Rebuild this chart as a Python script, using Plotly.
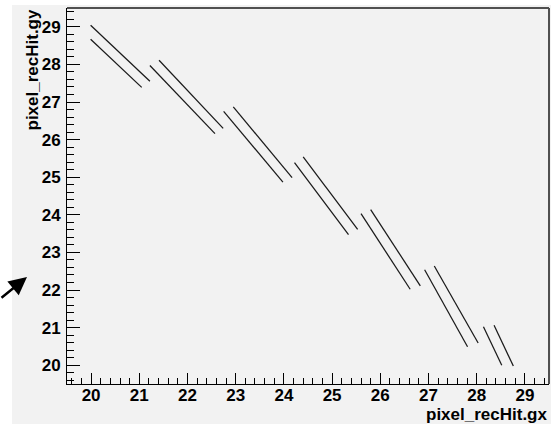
import plotly.graph_objects as go

# Reconstructed hit tracks: each entry is one straight run of rec-hits (start -> end)
seg_x_start = [19.99, 19.99, 21.22, 21.41, 22.75, 22.95, 24.22, 24.40, 25.60, 25.80, 26.92, 27.12, 28.14, 28.36]
seg_y_start = [29.04, 28.67, 27.97, 28.11, 26.75, 26.87, 25.39, 25.54, 24.03, 24.14, 22.54, 22.64, 21.02, 21.06]
seg_x_end = [21.22, 21.05, 22.57, 22.74, 23.98, 24.17, 25.34, 25.53, 26.62, 26.83, 27.81, 28.03, 28.52, 28.76]
seg_y_end = [27.55, 27.39, 26.16, 26.30, 24.87, 24.99, 23.47, 23.61, 22.02, 22.11, 20.49, 20.59, 20.00, 19.98]

x_range = [19.5, 29.5]
y_range = [19.5, 29.5]
tick_vals = [20, 21, 22, 23, 24, 25, 26, 27, 28, 29]

xs, ys = [], []
for x0, y0, x1, y1 in zip(seg_x_start, seg_y_start, seg_x_end, seg_y_end):
    xs += [x0, x1, None]
    ys += [y0, y1, None]

fig = go.Figure(go.Scatter(
    x=xs, y=ys, mode="lines",
    line=dict(color="#1a1a1a", width=1.25),
    hoverinfo="skip", showlegend=False,
))

W, H = 551, 424
ML, MR, MT, MB = 67, 2, 8, 40
pw, ph = W - ML - MR, H - MT - MB


def px_x(px):
    return (px - ML) / pw


def px_y(py):
    return (H - MB - py) / ph


text_font = dict(family="Liberation Sans, Arial, sans-serif", size=17, color="black", weight="bold")

fig.update_layout(
    width=W, height=H,
    margin=dict(l=ML, r=MR, t=MT, b=MB),
    paper_bgcolor="white",
    plot_bgcolor="#f2f2f2",
    showlegend=False,
    xaxis=dict(
        range=x_range, tickvals=tick_vals, ticks="inside", ticklen=11, tickwidth=1, tickcolor="black",
        minor=dict(ticks="inside", ticklen=6, dtick=0.2, tick0=19.6, tickcolor="black", showgrid=False),
        showline=True, linecolor="black", linewidth=1, showgrid=False, zeroline=False,
        tickfont=text_font, ticklabelstandoff=-4,
    ),
    yaxis=dict(
        range=y_range, tickvals=tick_vals, ticks="inside", ticklen=13, tickwidth=1, tickcolor="black",
        minor=dict(ticks="inside", ticklen=7, dtick=0.2, tick0=19.6, tickcolor="black", showgrid=False),
        showline=True, linecolor="black", linewidth=1, showgrid=False, zeroline=False,
        tickfont=text_font, ticklabelstandoff=2,
    ),
    shapes=[
        # canvas
        dict(type="rect", xref="paper", yref="paper", x0=px_x(12), x1=px_x(W + 2), y0=px_y(5), y1=px_y(H + 2),
             fillcolor="#f2f2f2", line=dict(width=0), layer="below"),
        # frame top and right edges
        dict(type="line", xref="paper", yref="paper", x0=0, x1=1, y0=1, y1=1,
             line=dict(color="#505050", width=2)),
        dict(type="line", xref="paper", yref="paper", x0=1, x1=1, y0=0, y1=1,
             line=dict(color="#505050", width=2)),
    ],
    annotations=[
        dict(text="pixel_recHit.gx", xref="paper", yref="paper", x=1.0, y=px_y(414),
             xanchor="right", yanchor="middle", showarrow=False, font=text_font),
        dict(text="pixel_recHit.gy", xref="paper", yref="paper", x=px_x(32), y=1.0,
             xanchor="center", yanchor="top", textangle=-90, showarrow=False, font=text_font),
        dict(text="", xref="paper", yref="paper", x=px_x(27), y=px_y(277),
             ax=-28, ay=22, showarrow=True, arrowhead=2, arrowsize=1.5, arrowwidth=2.4, arrowcolor="black"),
    ],
)

fig.write_html("out.html")
